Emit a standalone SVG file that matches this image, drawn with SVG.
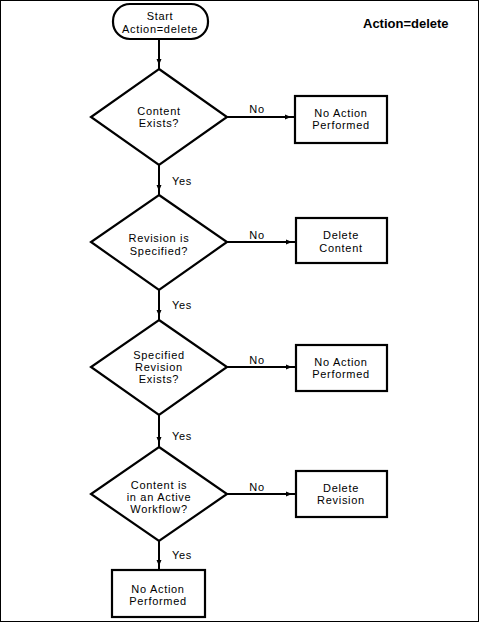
<svg xmlns="http://www.w3.org/2000/svg" width="480" height="624" viewBox="0 0 480 624">
<defs>
<marker id="ah" markerUnits="userSpaceOnUse" markerWidth="6" markerHeight="6" refX="10" refY="3" orient="auto" overflow="visible">
<path d="M0,0.5 L6,3 L0,5.5 z" fill="#000"/>
</marker>
</defs>
<style>
.sh{fill:#fff;stroke:#000;stroke-width:2.2}
.t{font-family:"Liberation Sans",Arial,sans-serif;font-size:11px;letter-spacing:0.7px;fill:#000;text-anchor:middle}
.l{font-family:"Liberation Sans",Arial,sans-serif;font-size:11px;letter-spacing:0.7px;fill:#000}
.c{fill:none;stroke:#000;stroke-width:2;marker-end:url(#ah)}
</style>
<rect x="0.5" y="0.5" width="478" height="621" fill="#fff" stroke="#000" stroke-width="1"/>
<text x="363" y="28" style="font-family:'Liberation Sans',Arial,sans-serif;font-size:13px;font-weight:bold">Action=delete</text>
<g id="connectors">
<path class="c" d="M159,39 V69"/>
<path class="c" d="M159,165 V195"/>
<path class="c" d="M159,290 V320"/>
<path class="c" d="M159,415 V447"/>
<path class="c" d="M159,541 V570"/>
<path class="c" d="M227,117 H295"/>
<path class="c" d="M227,242 H296"/>
<path class="c" d="M227,367 H296"/>
<path class="c" d="M227,494 H296"/>
<text class="t" x="257" y="113">No</text>
<text class="t" x="257" y="239">No</text>
<text class="t" x="257" y="364">No</text>
<text class="t" x="257" y="491">No</text>
<text class="l" x="172" y="185">Yes</text>
<text class="l" x="172" y="309">Yes</text>
<text class="l" x="172" y="440">Yes</text>
<text class="l" x="172" y="559">Yes</text>
</g>
<g id="start">
<rect class="sh" x="113" y="4" width="95" height="35" rx="17" ry="17" stroke-width="2.6"/>
<text class="t" x="160" y="20">Start</text>
<text class="t" x="160" y="33">Action=delete</text>
</g>
<g id="d1">
<polygon class="sh" points="159,69 227,117 159,165 91,117"/>
<text class="t" x="159" y="115">Content</text>
<text class="t" x="159" y="127">Exists?</text>
</g>
<g id="b1">
<rect class="sh" x="295" y="96" width="92" height="47"/>
<text class="t" x="341" y="117">No Action</text>
<text class="t" x="341" y="129">Performed</text>
</g>
<g id="d2">
<polygon class="sh" points="159,195 227,242 159,290 91,242"/>
<text class="t" x="159" y="242">Revision is</text>
<text class="t" x="159" y="255">Specified?</text>
</g>
<g id="b2">
<rect class="sh" x="296" y="218" width="91" height="45"/>
<text class="t" x="341" y="239">Delete</text>
<text class="t" x="341" y="252">Content</text>
</g>
<g id="d3">
<polygon class="sh" points="159,320 227,367 159,415 91,367"/>
<text class="t" x="159" y="359">Specified</text>
<text class="t" x="159" y="371">Revision</text>
<text class="t" x="159" y="383">Exists?</text>
</g>
<g id="b3">
<rect class="sh" x="296" y="345" width="91" height="46"/>
<text class="t" x="341" y="366">No Action</text>
<text class="t" x="341" y="378">Performed</text>
</g>
<g id="d4">
<polygon class="sh" points="159,447 227,494 159,541 91,494"/>
<text class="t" x="159" y="489">Content is</text>
<text class="t" x="159" y="501">in an Active</text>
<text class="t" x="159" y="513">Workflow?</text>
</g>
<g id="b4">
<rect class="sh" x="296" y="471" width="91" height="46"/>
<text class="t" x="341" y="492">Delete</text>
<text class="t" x="341" y="504">Revision</text>
</g>
<g id="b5">
<rect class="sh" x="112" y="570" width="93" height="47"/>
<text class="t" x="158" y="593">No Action</text>
<text class="t" x="158" y="605">Performed</text>
</g>
</svg>
